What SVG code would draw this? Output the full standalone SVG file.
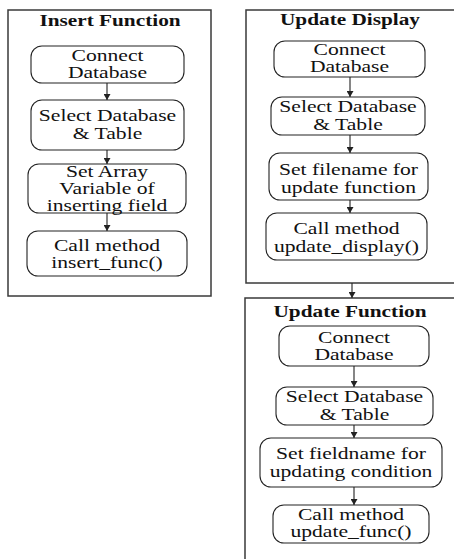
<svg xmlns="http://www.w3.org/2000/svg" width="454" height="559" viewBox="0 0 454 559">
  <style>
    .frame { fill: #ffffff; stroke: #3a3a3a; stroke-width: 1.5; }
    .box { fill: #ffffff; stroke: #222222; stroke-width: 1.1; }
    .lbl { font-family: "Liberation Serif", "Times New Roman", serif; font-size: 16px; fill: #111111; text-anchor: middle; }
    .ttl { font-family: "Liberation Serif", "Times New Roman", serif; font-size: 16px; font-weight: bold; fill: #111111; text-anchor: middle; }
    .link { stroke: #222222; stroke-width: 1.1; fill: none; marker-end: url(#head); }
  </style>
  <defs>
    <marker id="head" markerUnits="userSpaceOnUse" markerWidth="6" markerHeight="7" refX="6" refY="3.5" orient="auto">
      <path d="M0,0 L6,3.5 L0,7 z" fill="#222222"/>
    </marker>
  </defs>
  <rect width="454" height="559" fill="#ffffff"/>

  <!-- Insert Function panel -->
  <g id="insert-function">
    <rect class="frame" x="8" y="10" width="203" height="286"/>
    <text class="ttl" transform="translate(110 0) scale(1.33 1)" y="26">Insert Function</text>
  </g>
  <g id="ins-connect">
    <rect class="box" x="31" y="46" width="153" height="37" rx="11"/>
    <text class="lbl" transform="translate(107.5 0) scale(1.35 1)"><tspan x="0" y="61">Connect</tspan><tspan x="0" y="78">Database</tspan></text>
  </g>
  <g id="ins-select">
    <rect class="box" x="31" y="100" width="153" height="50" rx="11"/>
    <text class="lbl" transform="translate(107.5 0) scale(1.35 1)"><tspan x="0" y="121">Select Database</tspan><tspan x="0" y="139">&amp; Table</tspan></text>
  </g>
  <g id="ins-array">
    <rect class="box" x="28" y="164" width="158" height="49" rx="11"/>
    <text class="lbl" transform="translate(107 0) scale(1.35 1)"><tspan x="0" y="177">Set Array</tspan><tspan x="0" y="194">Variable of</tspan><tspan x="0" y="211">inserting field</tspan></text>
  </g>
  <g id="ins-call">
    <rect class="box" x="27" y="231" width="160" height="45" rx="11"/>
    <text class="lbl" transform="translate(107 0) scale(1.35 1)"><tspan x="0" y="251">Call method</tspan><tspan x="0" y="268">insert_func()</tspan></text>
  </g>

  <!-- Update Display panel -->
  <g id="update-display">
    <rect class="frame" x="246" y="10" width="216" height="273"/>
    <text class="ttl" transform="translate(350 0) scale(1.33 1)" y="25">Update Display</text>
  </g>
  <g id="ud-connect">
    <rect class="box" x="274" y="41" width="151" height="36" rx="11"/>
    <text class="lbl" transform="translate(349.5 0) scale(1.35 1)"><tspan x="0" y="55">Connect</tspan><tspan x="0" y="72">Database</tspan></text>
  </g>
  <g id="ud-select">
    <rect class="box" x="271" y="97" width="154" height="38" rx="11"/>
    <text class="lbl" transform="translate(348 0) scale(1.35 1)"><tspan x="0" y="112">Select Database</tspan><tspan x="0" y="130">&amp; Table</tspan></text>
  </g>
  <g id="ud-filename">
    <rect class="box" x="269" y="153" width="159" height="47" rx="11"/>
    <text class="lbl" transform="translate(348.5 0) scale(1.35 1)"><tspan x="0" y="175">Set filename for</tspan><tspan x="0" y="193">update function</tspan></text>
  </g>
  <g id="ud-call">
    <rect class="box" x="266" y="213" width="161" height="47" rx="11"/>
    <text class="lbl" transform="translate(346.5 0) scale(1.35 1)"><tspan x="0" y="234">Call method</tspan><tspan x="0" y="252">update_display()</tspan></text>
  </g>

  <!-- Update Function panel -->
  <g id="update-function">
    <rect class="frame" x="245" y="298" width="217" height="270"/>
    <text class="ttl" transform="translate(350 0) scale(1.33 1)" y="317">Update Function</text>
  </g>
  <g id="uf-connect">
    <rect class="box" x="279" y="326" width="150" height="40" rx="11"/>
    <text class="lbl" transform="translate(354 0) scale(1.35 1)"><tspan x="0" y="343">Connect</tspan><tspan x="0" y="360">Database</tspan></text>
  </g>
  <g id="uf-select">
    <rect class="box" x="276" y="387" width="157" height="38" rx="11"/>
    <text class="lbl" transform="translate(354.5 0) scale(1.35 1)"><tspan x="0" y="402">Select Database</tspan><tspan x="0" y="420">&amp; Table</tspan></text>
  </g>
  <g id="uf-fieldname">
    <rect class="box" x="260" y="438" width="182" height="49" rx="11"/>
    <text class="lbl" transform="translate(351 0) scale(1.35 1)"><tspan x="0" y="459">Set fieldname for</tspan><tspan x="0" y="477">updating condition</tspan></text>
  </g>
  <g id="uf-call">
    <rect class="box" x="273" y="505" width="156" height="38" rx="11"/>
    <text class="lbl" transform="translate(351 0) scale(1.35 1)"><tspan x="0" y="520">Call method</tspan><tspan x="0" y="537">update_func()</tspan></text>
  </g>

  <!-- connectors -->
  <g id="connectors">
    <line class="link" x1="107" y1="83" x2="107" y2="100"/>
    <line class="link" x1="107" y1="150" x2="107" y2="164"/>
    <line class="link" x1="107" y1="213" x2="107" y2="231"/>
    <line class="link" x1="350" y1="77" x2="350" y2="97"/>
    <line class="link" x1="350" y1="135" x2="350" y2="153"/>
    <line class="link" x1="350" y1="200" x2="350" y2="213"/>
    <line class="link" x1="352" y1="283" x2="352" y2="298"/>
    <line class="link" x1="354" y1="366" x2="354" y2="387"/>
    <line class="link" x1="354" y1="425" x2="354" y2="438"/>
    <line class="link" x1="354" y1="487" x2="354" y2="505"/>
  </g>
</svg>
